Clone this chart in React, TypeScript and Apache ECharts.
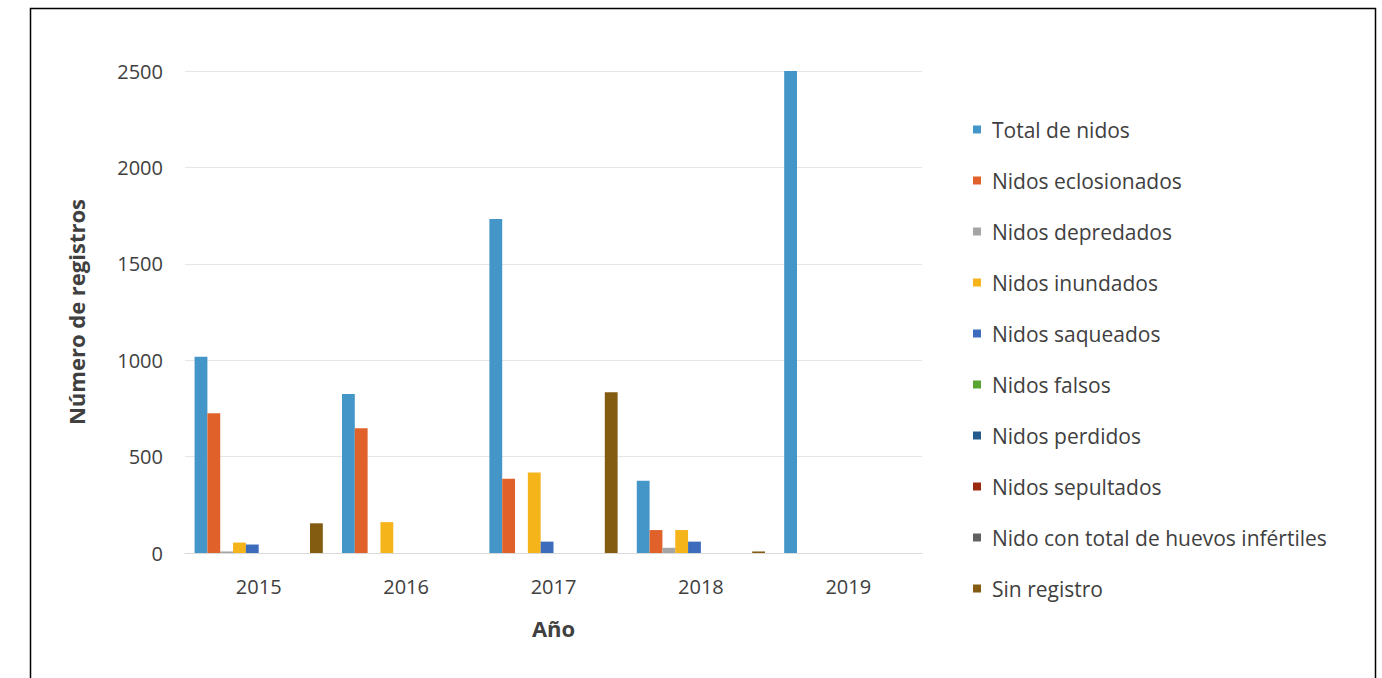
import React, { useEffect, useRef } from "react";
import * as echarts from "echarts";

const years = ["2015", "2016", "2017", "2018", "2019"];
const seriesNames = [
  "Total de nidos",
  "Nidos eclosionados",
  "Nidos depredados",
  "Nidos inundados",
  "Nidos saqueados",
  "Nidos falsos",
  "Nidos perdidos",
  "Nidos sepultados",
  "Nido con total de huevos infértiles",
  "Sin registro",
];
const totalNidos = [1018, 825, 1732, 375, 2508];
const eclosionados = [725, 647, 385, 119, 0];
const depredados = [8, 0, 0, 27, 0];
const inundados = [54, 160, 417, 119, 0];
const saqueados = [44, 0, 59, 59, 0];
const falsos = [0, 0, 0, 0, 0];
const perdidos = [0, 0, 0, 0, 0];
const sepultados = [0, 0, 0, 0, 0];
const infertiles = [0, 0, 0, 0, 0];
const sinRegistro = [154, 0, 834, 8, 0];
const yTicks = { min: 0, max: 2500, interval: 500 };

const colors = [
  "#4596C8",
  "#E0622A",
  "#A5A5A5",
  "#F4B41A",
  "#3D6CBC",
  "#5AA532",
  "#245A8C",
  "#9C2A10",
  "#616161",
  "#835C12",
];

const allData = [
  totalNidos,
  eclosionados,
  depredados,
  inundados,
  saqueados,
  falsos,
  perdidos,
  sepultados,
  infertiles,
  sinRegistro,
];

const FONT = "'Open Sans', 'Noto Sans', sans-serif";

export default function App() {
  const ref = useRef<HTMLDivElement>(null);
  useEffect(() => {
    if (!ref.current) return;
    const chart = echarts.init(ref.current, undefined, { renderer: "svg" });
    chart.setOption({
      animation: false,
      backgroundColor: "#ffffff",
      color: colors,
      grid: { left: 185, right: 460, top: 71, bottom: 125 },
      legend: {
        orient: "vertical",
        left: 968,
        top: 114,
        itemWidth: 8,
        itemHeight: 8,
        itemGap: 30,
        icon: "rect",
        data: seriesNames,
        textStyle: {
          fontFamily: FONT,
          fontSize: 21,
          color: "#404040",
          lineHeight: 20,
          padding: [0, 0, 0, 6],
        },
      },
      xAxis: {
        type: "category",
        data: years,
        name: "Año",
        nameLocation: "middle",
        nameGap: 64,
        nameTextStyle: {
          fontFamily: FONT,
          fontSize: 22,
          fontWeight: "bold",
          color: "#404040",
        },
        axisTick: { show: false },
        axisLine: { lineStyle: { color: "#d9d9d9", width: 1 } },
        axisLabel: {
          fontFamily: FONT,
          fontSize: 20,
          color: "#404040",
          margin: 23,
        },
      },
      yAxis: {
        type: "value",
        min: yTicks.min,
        max: yTicks.max,
        interval: yTicks.interval,
        name: "Número de registros",
        nameLocation: "middle",
        nameGap: 98,
        nameRotate: 90,
        nameTextStyle: {
          fontFamily: FONT,
          fontSize: 22,
          fontWeight: "bold",
          color: "#404040",
        },
        axisLine: { show: false },
        axisTick: { show: false },
        axisLabel: {
          fontFamily: FONT,
          fontSize: 20,
          color: "#404040",
          margin: 22,
          formatter: (v: number) => String(v),
        },
        splitLine: { lineStyle: { color: "#e6e6e6", width: 1 } },
      },
      series: seriesNames.map((name, i) => ({
        name,
        type: "bar",
        data: allData[i],
        barGap: "0%",
        barCategoryGap: "13%",
      })),
      graphic: [
        {
          type: "rect",
          shape: { x: 30.5, y: 8.5, width: 1345, height: 700 },
          style: { fill: "none", stroke: "#000", lineWidth: 1.5 },
          silent: true,
        },
      ],
    });
    return () => chart.dispose();
  }, []);
  return (
    <div
      ref={ref}
      style={{ position: "fixed", left: 0, top: 0, width: 1382, height: 678 }}
    />
  );
}
